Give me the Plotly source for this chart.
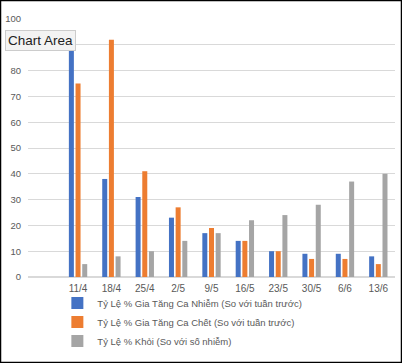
import plotly.graph_objects as go

categories = ["11/4", "18/4", "25/4", "2/5", "9/5", "16/5", "23/5", "30/5", "6/6", "13/6"]
nhiem = [89, 38, 31, 23, 17, 14, 10, 9, 9, 8]
chet = [75, 92, 41, 27, 19, 14, 10, 7, 7, 5]
khoi = [5, 8, 10, 14, 17, 22, 24, 28, 37, 40]
series_names = [
    "Tỷ Lệ % Gia Tăng Ca Nhiễm (So với tuần trước)",
    "Tỷ Lệ % Gia Tăng Ca Chết (So với tuần trước)",
    "Tỷ Lệ % Khỏi (So với số nhiễm)",
]
colors = ["#4472C4", "#ED7D31", "#A5A5A5"]
y_ticks = list(range(0, 101, 10))

fig = go.Figure()
for name, vals, col in zip(series_names, [nhiem, chet, khoi], colors):
    fig.add_trace(go.Bar(x=categories, y=vals, name=name, marker_color=col,
                         marker_line_width=0))

W, H = 402, 363
ml, mr, mt, mb = 28, 7, 19, 86
pw, ph = W - ml - mr, H - mt - mb

fig.update_layout(
    width=W, height=H,
    margin=dict(l=ml, r=mr, t=mt, b=mb, autoexpand=False),
    paper_bgcolor="white", plot_bgcolor="white",
    barmode="group", bargap=0.4, bargroupgap=0.25,
    font=dict(family="Liberation Sans, Arial, sans-serif", color="#595959", size=10),
    xaxis=dict(type="category", categoryorder="array", categoryarray=categories,
               range=[-1.5, 9.5], showgrid=False, showline=False, ticks="",
               automargin=False, ticklabelstandoff=4,
               tickfont=dict(size=10, color="#595959")),
    yaxis=dict(range=[0, 100], tickvals=y_ticks, showgrid=True, gridcolor="#D9D9D9",
               gridwidth=1, zeroline=True, zerolinecolor="#D9D9D9", showline=False,
               ticks="", automargin=False, ticklabelstandoff=6,
               tickfont=dict(size=9.5, color="#595959")),
    showlegend=True,
    legend=dict(orientation="v", x=0.08, xanchor="left", y=-0.045, yanchor="top",
                font=dict(size=9.5, color="#595959"), itemwidth=30,
                bgcolor="rgba(0,0,0,0)"),
    shapes=[dict(type="rect", xref="paper", yref="paper",
                 x0=-ml / pw, x1=1 + mr / pw, y0=-mb / ph, y1=1 + mt / ph,
                 line=dict(color="black", width=2.5), fillcolor="rgba(0,0,0,0)")],
    annotations=[dict(text="Chart Area", xref="paper", yref="paper",
                      x=(40.5 - ml) / pw, y=(277 - 40) / ph, xanchor="center",
                      yanchor="middle", showarrow=False,
                      font=dict(size=13.5, color="#222222"),
                      bgcolor="#F3F3F3", bordercolor="#CCCCCC", borderwidth=1,
                      borderpad=2)],
)

fig.write_html("out.html", config={"displayModeBar": False},
               post_script="document.body.style.margin='0';")
